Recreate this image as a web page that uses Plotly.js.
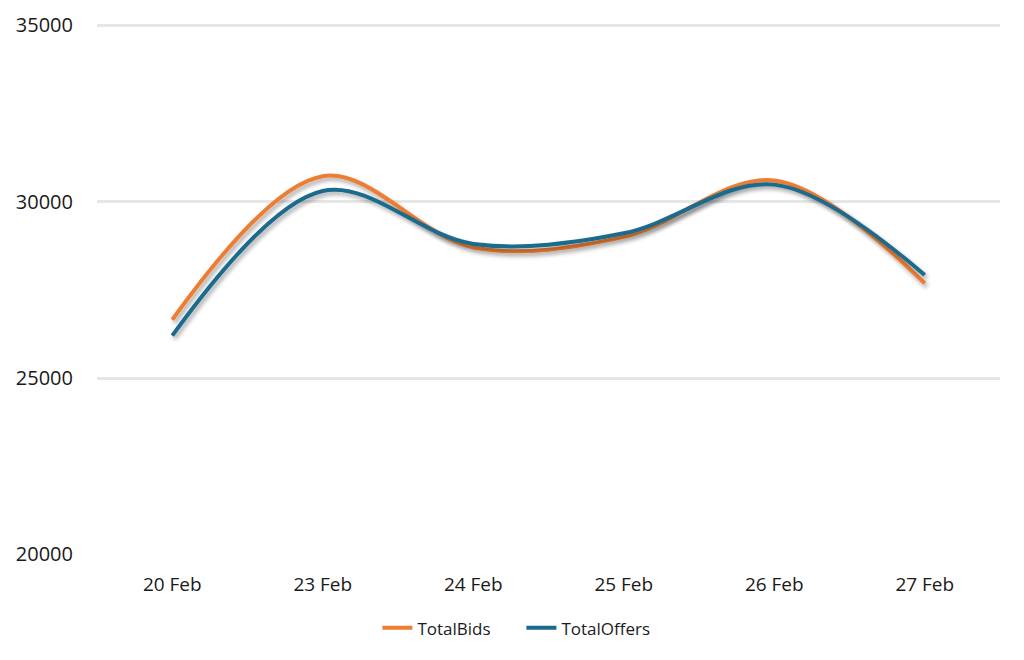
<!DOCTYPE html>
<html>
<head>
<meta charset="utf-8">
<script src="https://cdn.plot.ly/plotly-3.0.1.min.js"></script>
<style>html,body{margin:0;padding:0;background:#fff;}#chart{width:1024px;height:660px;}</style>
</head>
<body>
<svg width="0" height="0" style="position:absolute">
  <defs>
    <filter id="lineShadow" x="-5%" y="-20%" width="110%" height="140%">
      <feGaussianBlur in="SourceAlpha" stdDeviation="2"/>
      <feOffset dx="1.5" dy="3" result="ob"/>
      <feComponentTransfer><feFuncA type="linear" slope="0.35"/></feComponentTransfer>
      <feMerge><feMergeNode/><feMergeNode in="SourceGraphic"/></feMerge>
    </filter>
  </defs>
</svg>
<div id="chart"></div>
<script>
const categories = ["20 Feb", "23 Feb", "24 Feb", "25 Feb", "26 Feb", "27 Feb"];
const totalBids = [26650, 30720, 28700, 29000, 30600, 27680];
const totalOffers = [26200, 30300, 28800, 29100, 30480, 27920];
const yTicks = [20000, 25000, 30000, 35000];

const font = "Open Sans, Liberation Sans, sans-serif";
const traces = [
  {x: categories, y: totalBids, name: "TotalBids", type: "scatter", mode: "lines",
   line: {color: "#ED7D31", width: 4, shape: "spline", smoothing: 1}},
  {x: categories, y: totalOffers, name: "TotalOffers", type: "scatter", mode: "lines",
   line: {color: "#1B6A8C", width: 4, shape: "spline", smoothing: 1}}
];
const layout = {
  width: 1024, height: 660,
  margin: {l: 97, r: 24, t: 23, b: 105, autoexpand: false},
  paper_bgcolor: "#fff", plot_bgcolor: "#fff",
  font: {family: font, size: 19, color: "#1a1a1a"},
  showlegend: true,
  legend: {orientation: "h", x: 0.47, xanchor: "center", xref: "paper",
           yref: "container", y: 0.048, yanchor: "middle", entrywidth: 99,
           font: {size: 17, color: "#1a1a1a"}},
  xaxis: {type: "category", range: [-0.5, 5.5], showgrid: false, zeroline: false,
          showline: true, linecolor: "#ffffff", linewidth: 4,
          ticks: "outside", ticklen: 9, tickcolor: "rgba(0,0,0,0)",
          tickfont: {size: 19, color: "#1a1a1a"}},
  yaxis: {range: [19985, 35060], tickvals: yTicks, ticktext: yTicks.map(String),
          showgrid: true, gridcolor: "#e6e6e6", gridwidth: 3, zeroline: false,
          ticks: "outside", ticklen: 19, tickcolor: "rgba(0,0,0,0)",
          tickfont: {size: 20, color: "#1a1a1a"}}
};
Plotly.newPlot("chart", traces, layout, {displayModeBar: false, staticPlot: true}).then(function (gd) {
  gd.querySelectorAll(".scatterlayer .js-line").forEach(function (p) {
    p.setAttribute("filter", "url(#lineShadow)");
  });
});
</script>
</body>
</html>
